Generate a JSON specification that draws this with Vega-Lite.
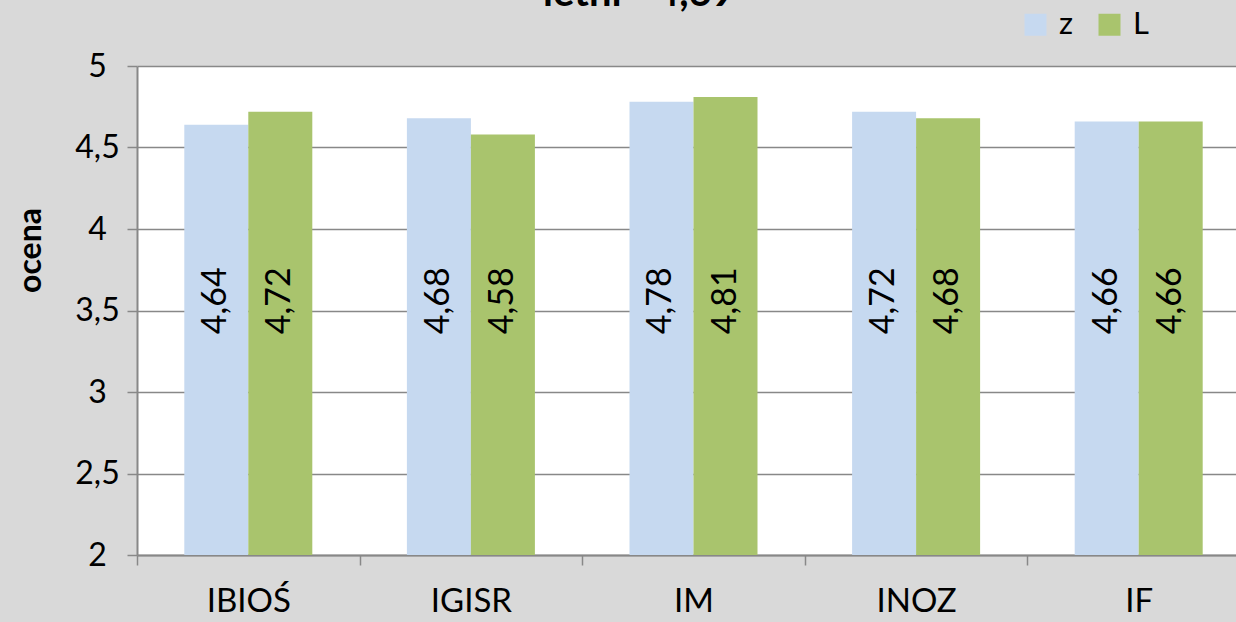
{
  "$schema": "https://vega.github.io/schema/vega-lite/v6.json",
  "width": 1099,
  "height": 489,
  "autosize": {"type": "none"},
  "padding": {"left": 137, "top": 66, "right": 0, "bottom": 67},
  "background": "#d9d9d9",
  "title": {
    "text": "letni - 4,69",
    "anchor": "start",
    "frame": "group",
    "dx": 406,
    "dy": 41,
    "fontSize": 40,
    "fontWeight": "bold",
    "font": "Lato",
    "color": "#000000",
    "baseline": "alphabetic",
    "offset": 4
  },
  "config": {
    "font": "Lato",
    "view": {"fill": "#ffffff", "stroke": null}
  },
  "data": {
    "values": [
      {"inst": "IBIOŚ", "sem": "z", "ocena": 4.64, "label": "4,64"},
      {"inst": "IBIOŚ", "sem": "L", "ocena": 4.72, "label": "4,72"},
      {"inst": "IGISR", "sem": "z", "ocena": 4.68, "label": "4,68"},
      {"inst": "IGISR", "sem": "L", "ocena": 4.58, "label": "4,58"},
      {"inst": "IM", "sem": "z", "ocena": 4.78, "label": "4,78"},
      {"inst": "IM", "sem": "L", "ocena": 4.81, "label": "4,81"},
      {"inst": "INOZ", "sem": "z", "ocena": 4.72, "label": "4,72"},
      {"inst": "INOZ", "sem": "L", "ocena": 4.68, "label": "4,68"},
      {"inst": "IF", "sem": "z", "ocena": 4.66, "label": "4,66"},
      {"inst": "IF", "sem": "L", "ocena": 4.66, "label": "4,66"}
    ]
  },
  "encoding": {
    "x": {
      "field": "inst",
      "type": "nominal",
      "sort": ["IBIOŚ", "IGISR", "IM", "INOZ", "IF"],
      "scale": {"range": [0, 1113], "paddingInner": 0, "paddingOuter": 0},
      "axis": {
        "title": null,
        "labelAngle": 0,
        "labelFontSize": 33,
        "labelColor": "#000000",
        "labelPadding": 20,
        "tickBand": "extent",
        "tickSize": 10,
        "tickColor": "#888888",
        "tickWidth": 1.5,
        "domainColor": "#888888",
        "domainWidth": 2
      }
    },
    "xOffset": {
      "field": "sem",
      "type": "nominal",
      "sort": ["z", "L"],
      "scale": {"paddingInner": 0, "paddingOuter": 0.739}
    }
  },
  "layer": [
    {
      "mark": {"type": "bar", "clip": true},
      "encoding": {
        "y": {
          "field": "ocena",
          "type": "quantitative",
          "scale": {"domain": [2, 5], "zero": false, "nice": false},
          "axis": {
            "title": "ocena",
            "titleFontSize": 32,
            "titleFontWeight": "bold",
            "titleColor": "#000000",
            "titleAngle": 270,
            "titleX": -107,
            "titleY": 184,
            "titleAlign": "center",
            "titleBaseline": "middle",
            "values": [2, 2.5, 3, 3.5, 4, 4.5, 5],
            "format": ".1~f",
            "labelExpr": "replace(datum.label, '.', ',')",
            "labelFontSize": 32,
            "labelColor": "#000000",
            "labelAlign": "center",
            "labelPadding": 30,
            "tickSize": 10,
            "tickColor": "#888888",
            "tickWidth": 1.5,
            "grid": true,
            "gridColor": "#888888",
            "gridWidth": 1.5,
            "domainColor": "#888888",
            "domainWidth": 2
          }
        },
        "color": {
          "field": "sem",
          "type": "nominal",
          "sort": ["z", "L"],
          "scale": {"domain": ["z", "L"], "range": ["#c6d9f0", "#a9c46d"]},
          "legend": {
            "title": null,
            "orient": "none",
            "legendX": 883,
            "legendY": -57,
            "direction": "horizontal",
            "symbolType": "square",
            "symbolSize": 484,
            "symbolStrokeWidth": 0,
            "labelFontSize": 31,
            "labelColor": "#000000",
            "labelOffset": 8,
            "columnPadding": 20,
            "padding": 0
          }
        }
      }
    },
    {
      "mark": {"type": "text", "angle": 270, "fontSize": 34, "color": "#000000", "align": "center", "baseline": "middle"},
      "encoding": {
        "y": {"datum": 3.56, "type": "quantitative"},
        "text": {"field": "label"}
      }
    }
  ]
}
